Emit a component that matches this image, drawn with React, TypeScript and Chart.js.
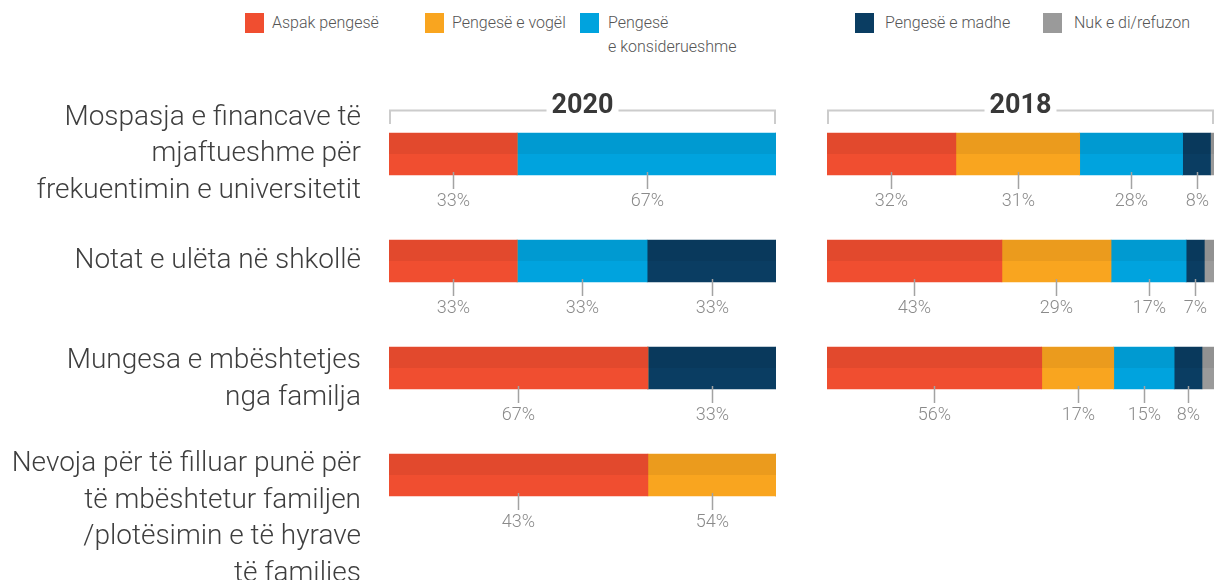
import React, { useEffect, useRef } from "react";
import { Chart, registerables } from "chart.js";
Chart.register(...registerables);

// ---------- DATA ----------
const categories: string[][] = [
  ["Mospasja e financave të", "mjaftueshme për", "frekuentimin e universitetit"],
  ["Notat e ulëta në shkollë"],
  ["Mungesa e mbështetjes", "nga familja"],
  ["Nevoja për të filluar punë për", "të mbështetur familjen", "/plotësimin e të hyrave", "të familjes"],
];
const seriesNames = ["Aspak pengesë", "Pengesë e vogël", "Pengesë\ne konsiderueshme", "Pengesë e madhe", "Nuk e di/refuzon"];
const years = ["2020", "2018"];

// 2020 segment widths (% of bar)
const aspak2020 = [33.1, 33.1, 66.9, 66.9];
const vogel2020 = [0, 0, 0, 33.1];
const konsid2020 = [66.9, 33.6, 0, 0];
const madhe2020 = [0, 33.3, 33.1, 0];
const nuk2020 = [0, 0, 0, 0];
// 2020 printed labels
const aspak2020Labels = ["33%", "33%", "67%", "43%"];
const vogel2020Labels = [null, null, null, "54%"];
const konsid2020Labels = ["67%", "33%", null, null];
const madhe2020Labels = [null, "33%", "33%", null];
const nuk2020Labels = [null, null, null, null];

// 2018 segment widths (% of bar)
const aspak2018 = [33.3, 45.2, 55.5, null];
const vogel2018 = [32.0, 28.2, 18.6, null];
const konsid2018 = [26.6, 19.4, 15.6, null];
const madhe2018 = [7.2, 4.7, 7.2, null];
const nuk2018 = [0.9, 2.5, 3.1, null];
// 2018 printed labels
const aspak2018Labels = ["32%", "43%", "56%", null];
const vogel2018Labels = ["31%", "29%", "17%", null];
const konsid2018Labels = ["28%", "17%", "15%", null];
const madhe2018Labels = ["8%", "7%", "8%", null];
const nuk2018Labels = [null, null, null, null];

// ---------- STYLE ----------
const colors = ["#F04E30", "#F9A51F", "#00A3DE", "#0A3D62", "#9A9A9A"];
const legendLeft = [245, 425, 580, 855, 1043];
const legendGap = [8, 8, 9, 11, 12];
const labelFirstLineOffset = [-36.5, 0, -7, -11];
const FONT = "Roboto, 'Open Sans', sans-serif";

type Cfg = {
  year: string;
  values: (number | null)[][];
  labels: (string | null)[][];
  padding: { left: number; right: number; top: number; bottom: number };
  drawCategories: boolean;
};

function buildChart(canvas: HTMLCanvasElement, cfg: Cfg) {
  const datasets = seriesNames.map((name, s) => ({
    label: name.replace("\n", " "),
    data: cfg.values[s],
    backgroundColor: colors[s],
    borderWidth: 0,
    barThickness: 42,
  }));

  const decor = {
    id: "decor" + cfg.year,
    afterDatasetsDraw(chart: any) {
      const ctx = chart.ctx as CanvasRenderingContext2D;
      ctx.save();
      // darker top half of each bar
      for (let i = 0; i < categories.length; i++) {
        let l = Infinity, r = -Infinity, yc = 0, h = 0;
        chart.data.datasets.forEach((ds: any, s: number) => {
          const v = ds.data[i];
          if (v == null || v === 0) return;
          const el = chart.getDatasetMeta(s).data[i];
          l = Math.min(l, el.base, el.x);
          r = Math.max(r, el.base, el.x);
          yc = el.y;
          h = el.height;
        });
        if (r > l) {
          ctx.fillStyle = "rgba(0,0,0,0.055)";
          ctx.fillRect(l, yc - h / 2, r - l, h / 2);
        }
      }
      // value labels with leader ticks
      ctx.font = `300 18px ${FONT}`;
      ctx.textAlign = "center";
      ctx.textBaseline = "middle";
      cfg.labels.forEach((arr, s) => {
        const meta = chart.getDatasetMeta(s);
        arr.forEach((txt, i) => {
          if (!txt) return;
          const el = meta.data[i];
          const cx = Math.round((el.x + el.base) / 2) + 0.5;
          const bottom = el.y + el.height / 2;
          ctx.strokeStyle = "#a3a3a3";
          ctx.lineWidth = 1.5;
          ctx.beginPath();
          ctx.moveTo(cx, bottom - 3);
          ctx.lineTo(cx, bottom + 14);
          ctx.stroke();
          ctx.fillStyle = "#8a8a8a";
          ctx.fillText(txt, cx, bottom + 26);
        });
      });
      ctx.restore();
    },
    afterDraw(chart: any) {
      const ctx = chart.ctx as CanvasRenderingContext2D;
      const { left, right, top } = chart.chartArea;
      ctx.save();
      // year title with bracket
      const mid = (left + right) / 2;
      ctx.font = `bold 27px ${FONT}`;
      const w = ctx.measureText(cfg.year).width;
      ctx.fillStyle = "#383838";
      ctx.textAlign = "center";
      ctx.textBaseline = "alphabetic";
      ctx.fillText(cfg.year, mid, top + 12.5);
      ctx.strokeStyle = "#cccccc";
      ctx.lineWidth = 2;
      const ly = top + 10;
      ctx.beginPath();
      ctx.moveTo(left + 1, top + 23.5);
      ctx.lineTo(left + 1, ly);
      ctx.lineTo(mid - w / 2 - 5, ly);
      ctx.moveTo(mid + w / 2 + 5, ly);
      ctx.lineTo(right - 1, ly);
      ctx.lineTo(right - 1, top + 23.5);
      ctx.stroke();
      // category labels
      if (cfg.drawCategories) {
        const y = chart.scales.y;
        ctx.font = `300 28px ${FONT}`;
        ctx.fillStyle = "#3e3e3e";
        ctx.textAlign = "right";
        ctx.textBaseline = "middle";
        categories.forEach((lines, i) => {
          const yc = y.getPixelForValue(i);
          lines.forEach((line, k) => {
            ctx.fillText(line, 361, yc + labelFirstLineOffset[i] + k * 36.5);
          });
        });
      }
      ctx.restore();
    },
  };

  return new Chart(canvas, {
    type: "bar",
    data: { labels: categories.map((c) => c.join(" ")), datasets },
    options: {
      indexAxis: "y",
      animation: false,
      responsive: false,
      events: [],
      layout: { padding: cfg.padding },
      plugins: { legend: { display: false }, tooltip: { enabled: false } },
      scales: {
        x: { stacked: true, min: 0, max: 100, display: false },
        y: { stacked: true, display: false },
      },
    },
    plugins: [decor],
  } as any);
}

export default function App() {
  const leftRef = useRef<HTMLCanvasElement>(null);
  const rightRef = useRef<HTMLCanvasElement>(null);

  useEffect(() => {
    const top = 100.5;
    const bottom = 580 - 528.5;
    const c1 = buildChart(leftRef.current!, {
      year: years[0],
      values: [aspak2020, vogel2020, konsid2020, madhe2020, nuk2020],
      labels: [aspak2020Labels, vogel2020Labels, konsid2020Labels, madhe2020Labels, nuk2020Labels],
      padding: { left: 389, right: 800 - 776, top, bottom },
      drawCategories: true,
    });
    const c2 = buildChart(rightRef.current!, {
      year: years[1],
      values: [aspak2018, vogel2018, konsid2018, madhe2018, nuk2018],
      labels: [aspak2018Labels, vogel2018Labels, konsid2018Labels, madhe2018Labels, nuk2018Labels],
      padding: { left: 827 - 800, right: 1217 - 1214, top, bottom },
      drawCategories: false,
    });
    return () => {
      c1.destroy();
      c2.destroy();
    };
  }, []);

  return (
    <div style={{ position: "absolute", left: 0, top: 0, width: 1217, height: 580, background: "#fff", overflow: "hidden" }}>
      {seriesNames.map((name, i) => (
        <div key={i} style={{ position: "absolute", left: legendLeft[i], top: 13, display: "flex", alignItems: "flex-start" }}>
          <span style={{ display: "inline-block", width: 19, height: 20, background: colors[i], flex: "none" }} />
          <span
            style={{
              marginLeft: legendGap[i],
              marginTop: -2,
              font: `300 16px ${FONT}`,
              lineHeight: "24px",
              color: "#555",
              whiteSpace: "pre-line",
            }}
          >
            {name}
          </span>
        </div>
      ))}
      <canvas ref={leftRef} width={800} height={580} style={{ position: "absolute", left: 0, top: 0, width: 800, height: 580 }} />
      <canvas ref={rightRef} width={417} height={580} style={{ position: "absolute", left: 800, top: 0, width: 417, height: 580 }} />
    </div>
  );
}
